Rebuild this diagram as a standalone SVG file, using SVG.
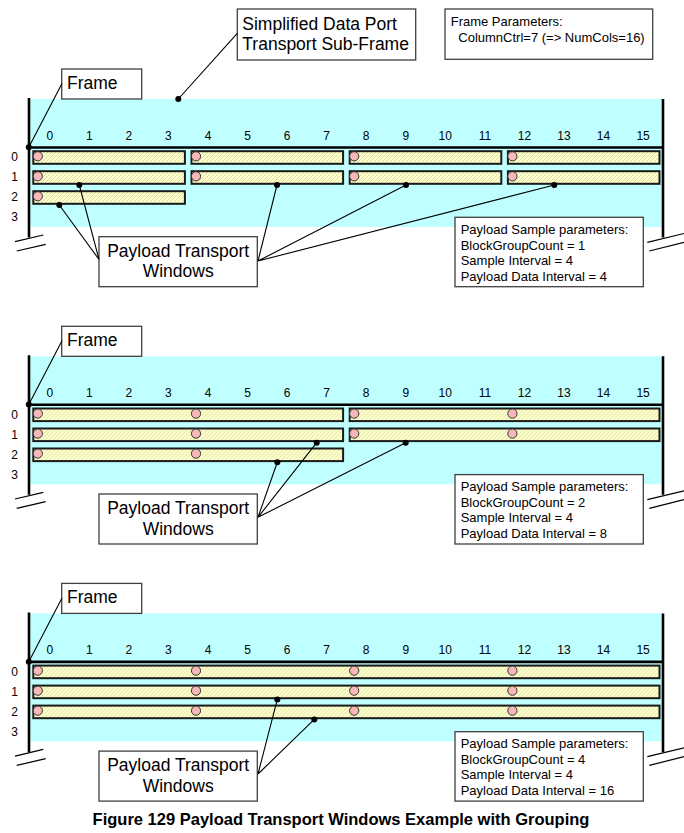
<svg xmlns="http://www.w3.org/2000/svg" width="684" height="833" viewBox="0 0 684 833">
<defs>
<pattern id="hatch" width="4" height="4" patternUnits="userSpaceOnUse">
<rect width="4" height="4" fill="#ffffcc"/>
<path d="M0,4 L4,0 M-1,1 L1,-1 M3,5 L5,3" stroke="#d8dca4" stroke-width="0.9"/>
</pattern>
</defs>
<style>
.cyan{fill:#c0ffff}
.axis{stroke:#000;stroke-width:2.6;fill:none}
.brk{stroke:#000;stroke-width:1.2;fill:none}
.bar{fill:url(#hatch);stroke:#1a1a1a;stroke-width:2}
.smp{fill:#f8b8b8;stroke:#333;stroke-width:1}
.box{fill:#fff;stroke:#404040;stroke-width:1.3}
.t{font-family:"Liberation Sans",Arial,sans-serif;fill:#000}
.big{font-size:17.5px}
.sm{font-size:13px}
.num{font-size:12px;text-anchor:middle}
.mid{text-anchor:middle}
.cap{font-size:16.5px;font-weight:bold;text-anchor:middle}
.ln{stroke:#000;stroke-width:1.1;fill:none}
.dot{fill:#000}
</style>

<g id="subframe-label">
<rect class="box" x="237.3" y="9" width="178.4" height="51"/>
<text class="t big" x="242.3" y="29.5">Simplified Data Port</text>
<text class="t big" x="242.3" y="50">Transport Sub-Frame</text>
</g>
<g id="frame-parameters">
<rect class="box" x="445" y="9" width="207.7" height="50.3"/>
<text class="t sm" x="450.7" y="26">Frame Parameters:</text>
<text class="t sm" x="458.3" y="41.7">ColumnCtrl=7 (=&gt; NumCols=16)</text>
</g>

<g id="panel-1">
<g id="p1-subframe">
<rect class="cyan" x="30" y="99" width="632" height="128"/>
<g class="t num">
<text x="49.8" y="139.5">0</text><text x="89.3" y="139.5">1</text><text x="128.9" y="139.5">2</text><text x="168.4" y="139.5">3</text>
<text x="208" y="139.5">4</text><text x="247.6" y="139.5">5</text><text x="287.1" y="139.5">6</text><text x="326.7" y="139.5">7</text>
<text x="366.2" y="139.5">8</text><text x="405.8" y="139.5">9</text><text x="445.3" y="139.5">10</text><text x="484.9" y="139.5">11</text>
<text x="524.4" y="139.5">12</text><text x="564" y="139.5">13</text><text x="603.5" y="139.5">14</text><text x="643.1" y="139.5">15</text>
<text x="14.5" y="161.3">0</text><text x="14.5" y="181.3">1</text><text x="14.5" y="201.3">2</text><text x="14.5" y="221.3">3</text>
</g>
<path class="axis" d="M29,98 V237.5 M663,99 V237.5 M29,147.5 H663"/>
<path class="brk" d="M15,241.7 L43.3,235 M16.7,251 L45.7,244.3 M647.3,242.3 L684,233.5 M649.3,251 L684,242.3"/>
</g>
<g id="p1-windows">
<rect class="bar" x="33.3" y="151.2" width="151.6" height="12.6"/>
<rect class="bar" x="191.5" y="151.2" width="151.6" height="12.6"/>
<rect class="bar" x="349.7" y="151.2" width="151.6" height="12.6"/>
<rect class="bar" x="507.9" y="151.2" width="151.6" height="12.6"/>
<rect class="bar" x="33.3" y="171.2" width="151.6" height="12.6"/>
<rect class="bar" x="191.5" y="171.2" width="151.6" height="12.6"/>
<rect class="bar" x="349.7" y="171.2" width="151.6" height="12.6"/>
<rect class="bar" x="507.9" y="171.2" width="151.6" height="12.6"/>
<rect class="bar" x="33.3" y="191.2" width="151.6" height="12.6"/>
<circle class="smp" cx="37.8" cy="156.3" r="4.6"/><circle class="smp" cx="196" cy="156.3" r="4.6"/><circle class="smp" cx="354.2" cy="156.3" r="4.6"/><circle class="smp" cx="512.4" cy="156.3" r="4.6"/>
<circle class="smp" cx="37.8" cy="176.3" r="4.6"/><circle class="smp" cx="196" cy="176.3" r="4.6"/><circle class="smp" cx="354.2" cy="176.3" r="4.6"/><circle class="smp" cx="512.4" cy="176.3" r="4.6"/>
<circle class="smp" cx="37.8" cy="196.3" r="4.6"/>
</g>
<g id="p1-frame-label">
<rect class="box" x="61.7" y="69" width="80" height="30"/>
<text class="t big" x="67" y="88.5">Frame</text>
</g>
<g id="p1-ptw-label">
<rect class="box" x="99" y="236.7" width="158.3" height="50"/>
<text class="t big mid" x="178.2" y="256.7">Payload Transport</text>
<text class="t big mid" x="178.2" y="277.3">Windows</text>
</g>
<g id="p1-params">
<rect class="box" x="455" y="217.3" width="188.3" height="69.4"/>
<text class="t sm" x="460.7" y="234">Payload Sample parameters:</text>
<text class="t sm" x="460.7" y="249.5">BlockGroupCount = 1</text>
<text class="t sm" x="460.7" y="265">Sample Interval = 4</text>
<text class="t sm" x="460.7" y="280.5">Payload Data Interval = 4</text>
</g>
</g>

<g id="panel-2" transform="translate(0,257.3)">
<g id="p2-subframe">
<rect class="cyan" x="30" y="99" width="632" height="128"/>
<g class="t num">
<text x="49.8" y="139.5">0</text><text x="89.3" y="139.5">1</text><text x="128.9" y="139.5">2</text><text x="168.4" y="139.5">3</text>
<text x="208" y="139.5">4</text><text x="247.6" y="139.5">5</text><text x="287.1" y="139.5">6</text><text x="326.7" y="139.5">7</text>
<text x="366.2" y="139.5">8</text><text x="405.8" y="139.5">9</text><text x="445.3" y="139.5">10</text><text x="484.9" y="139.5">11</text>
<text x="524.4" y="139.5">12</text><text x="564" y="139.5">13</text><text x="603.5" y="139.5">14</text><text x="643.1" y="139.5">15</text>
<text x="14.5" y="161.3">0</text><text x="14.5" y="181.3">1</text><text x="14.5" y="201.3">2</text><text x="14.5" y="221.3">3</text>
</g>
<path class="axis" d="M29,98 V237.5 M663,99 V237.5 M29,147.5 H663"/>
<path class="brk" d="M15,241.7 L43.3,235 M16.7,251 L45.7,244.3 M647.3,242.3 L684,233.5 M649.3,251 L684,242.3"/>
</g>
<g id="p2-windows">
<rect class="bar" x="33.3" y="151.2" width="309.8" height="12.6"/>
<rect class="bar" x="349.7" y="151.2" width="309.8" height="12.6"/>
<rect class="bar" x="33.3" y="171.2" width="309.8" height="12.6"/>
<rect class="bar" x="349.7" y="171.2" width="309.8" height="12.6"/>
<rect class="bar" x="33.3" y="191.2" width="309.8" height="12.6"/>
<circle class="smp" cx="37.8" cy="156.3" r="4.6"/><circle class="smp" cx="196" cy="156.3" r="4.6"/><circle class="smp" cx="354.2" cy="156.3" r="4.6"/><circle class="smp" cx="512.4" cy="156.3" r="4.6"/>
<circle class="smp" cx="37.8" cy="176.3" r="4.6"/><circle class="smp" cx="196" cy="176.3" r="4.6"/><circle class="smp" cx="354.2" cy="176.3" r="4.6"/><circle class="smp" cx="512.4" cy="176.3" r="4.6"/>
<circle class="smp" cx="37.8" cy="196.3" r="4.6"/><circle class="smp" cx="196" cy="196.3" r="4.6"/>
</g>
<g id="p2-frame-label">
<rect class="box" x="61.7" y="69" width="80" height="30"/>
<text class="t big" x="67" y="88.5">Frame</text>
</g>
<g id="p2-ptw-label">
<rect class="box" x="99" y="236.7" width="158.3" height="50"/>
<text class="t big mid" x="178.2" y="256.7">Payload Transport</text>
<text class="t big mid" x="178.2" y="277.3">Windows</text>
</g>
<g id="p2-params">
<rect class="box" x="455" y="217.3" width="188.3" height="69.4"/>
<text class="t sm" x="460.7" y="234">Payload Sample parameters:</text>
<text class="t sm" x="460.7" y="249.5">BlockGroupCount = 2</text>
<text class="t sm" x="460.7" y="265">Sample Interval = 4</text>
<text class="t sm" x="460.7" y="280.5">Payload Data Interval = 8</text>
</g>
</g>

<g id="panel-3" transform="translate(0,514.4)">
<g id="p3-subframe">
<rect class="cyan" x="30" y="99" width="632" height="128"/>
<g class="t num">
<text x="49.8" y="139.5">0</text><text x="89.3" y="139.5">1</text><text x="128.9" y="139.5">2</text><text x="168.4" y="139.5">3</text>
<text x="208" y="139.5">4</text><text x="247.6" y="139.5">5</text><text x="287.1" y="139.5">6</text><text x="326.7" y="139.5">7</text>
<text x="366.2" y="139.5">8</text><text x="405.8" y="139.5">9</text><text x="445.3" y="139.5">10</text><text x="484.9" y="139.5">11</text>
<text x="524.4" y="139.5">12</text><text x="564" y="139.5">13</text><text x="603.5" y="139.5">14</text><text x="643.1" y="139.5">15</text>
<text x="14.5" y="161.3">0</text><text x="14.5" y="181.3">1</text><text x="14.5" y="201.3">2</text><text x="14.5" y="221.3">3</text>
</g>
<path class="axis" d="M29,98 V237.5 M663,99 V237.5 M29,147.5 H663"/>
<path class="brk" d="M15,241.7 L43.3,235 M16.7,251 L45.7,244.3 M647.3,242.3 L684,233.5 M649.3,251 L684,242.3"/>
</g>
<g id="p3-windows">
<rect class="bar" x="33.3" y="151.2" width="626.2" height="12.6"/>
<rect class="bar" x="33.3" y="171.2" width="626.2" height="12.6"/>
<rect class="bar" x="33.3" y="191.2" width="626.2" height="12.6"/>
<circle class="smp" cx="37.8" cy="156.3" r="4.6"/><circle class="smp" cx="196" cy="156.3" r="4.6"/><circle class="smp" cx="354.2" cy="156.3" r="4.6"/><circle class="smp" cx="512.4" cy="156.3" r="4.6"/>
<circle class="smp" cx="37.8" cy="176.3" r="4.6"/><circle class="smp" cx="196" cy="176.3" r="4.6"/><circle class="smp" cx="354.2" cy="176.3" r="4.6"/><circle class="smp" cx="512.4" cy="176.3" r="4.6"/>
<circle class="smp" cx="37.8" cy="196.3" r="4.6"/><circle class="smp" cx="196" cy="196.3" r="4.6"/><circle class="smp" cx="354.2" cy="196.3" r="4.6"/><circle class="smp" cx="512.4" cy="196.3" r="4.6"/>
</g>
<g id="p3-frame-label">
<rect class="box" x="61.7" y="69" width="80" height="30"/>
<text class="t big" x="67" y="88.5">Frame</text>
</g>
<g id="p3-ptw-label">
<rect class="box" x="99" y="236.7" width="158.3" height="50"/>
<text class="t big mid" x="178.2" y="256.7">Payload Transport</text>
<text class="t big mid" x="178.2" y="277.3">Windows</text>
</g>
<g id="p3-params">
<rect class="box" x="455" y="217.3" width="188.3" height="69.4"/>
<text class="t sm" x="460.7" y="234">Payload Sample parameters:</text>
<text class="t sm" x="460.7" y="249.5">BlockGroupCount = 4</text>
<text class="t sm" x="460.7" y="265">Sample Interval = 4</text>
<text class="t sm" x="460.7" y="280.5">Payload Data Interval = 16</text>
</g>
</g>

<g id="connectors">
<g id="conn-1">
<path class="ln" d="M237.3,33.3 L178.3,99 M62,83.5 L28.8,147.3 M99,259.5 L59.3,205 M99,259.5 L79.3,185 M258,261 L277,185 M258,261 L406,185 M258,261 L554.3,185"/>
<circle class="dot" cx="178.3" cy="99" r="3"/><circle class="dot" cx="28.8" cy="147.3" r="3"/>
<circle class="dot" cx="59.3" cy="205" r="3"/><circle class="dot" cx="79.3" cy="185" r="3"/>
<circle class="dot" cx="277" cy="185" r="3"/><circle class="dot" cx="406" cy="185" r="3"/><circle class="dot" cx="554.3" cy="185" r="3"/>
</g>
<g id="conn-2" transform="translate(0,257.3)">
<path class="ln" d="M62,83.5 L28.8,147.3 M258,260 L277.3,205 M258,260 L316.7,185.4 M258,260 L405.7,185.4"/>
<circle class="dot" cx="28.8" cy="147.3" r="3"/>
<circle class="dot" cx="277.3" cy="205" r="3"/><circle class="dot" cx="316.7" cy="185.4" r="3"/><circle class="dot" cx="405.7" cy="185.4" r="3"/>
</g>
<g id="conn-3" transform="translate(0,514.4)">
<path class="ln" d="M62,83.5 L28.8,147.3 M258,259.6 L277.3,185 M258,259.6 L314.3,205"/>
<circle class="dot" cx="28.8" cy="147.3" r="3"/>
<circle class="dot" cx="277.3" cy="185" r="3"/><circle class="dot" cx="314.3" cy="205" r="3"/>
</g>
</g>

<text id="caption" class="t cap" x="341" y="825">Figure 129 Payload Transport Windows Example with Grouping</text>
</svg>
